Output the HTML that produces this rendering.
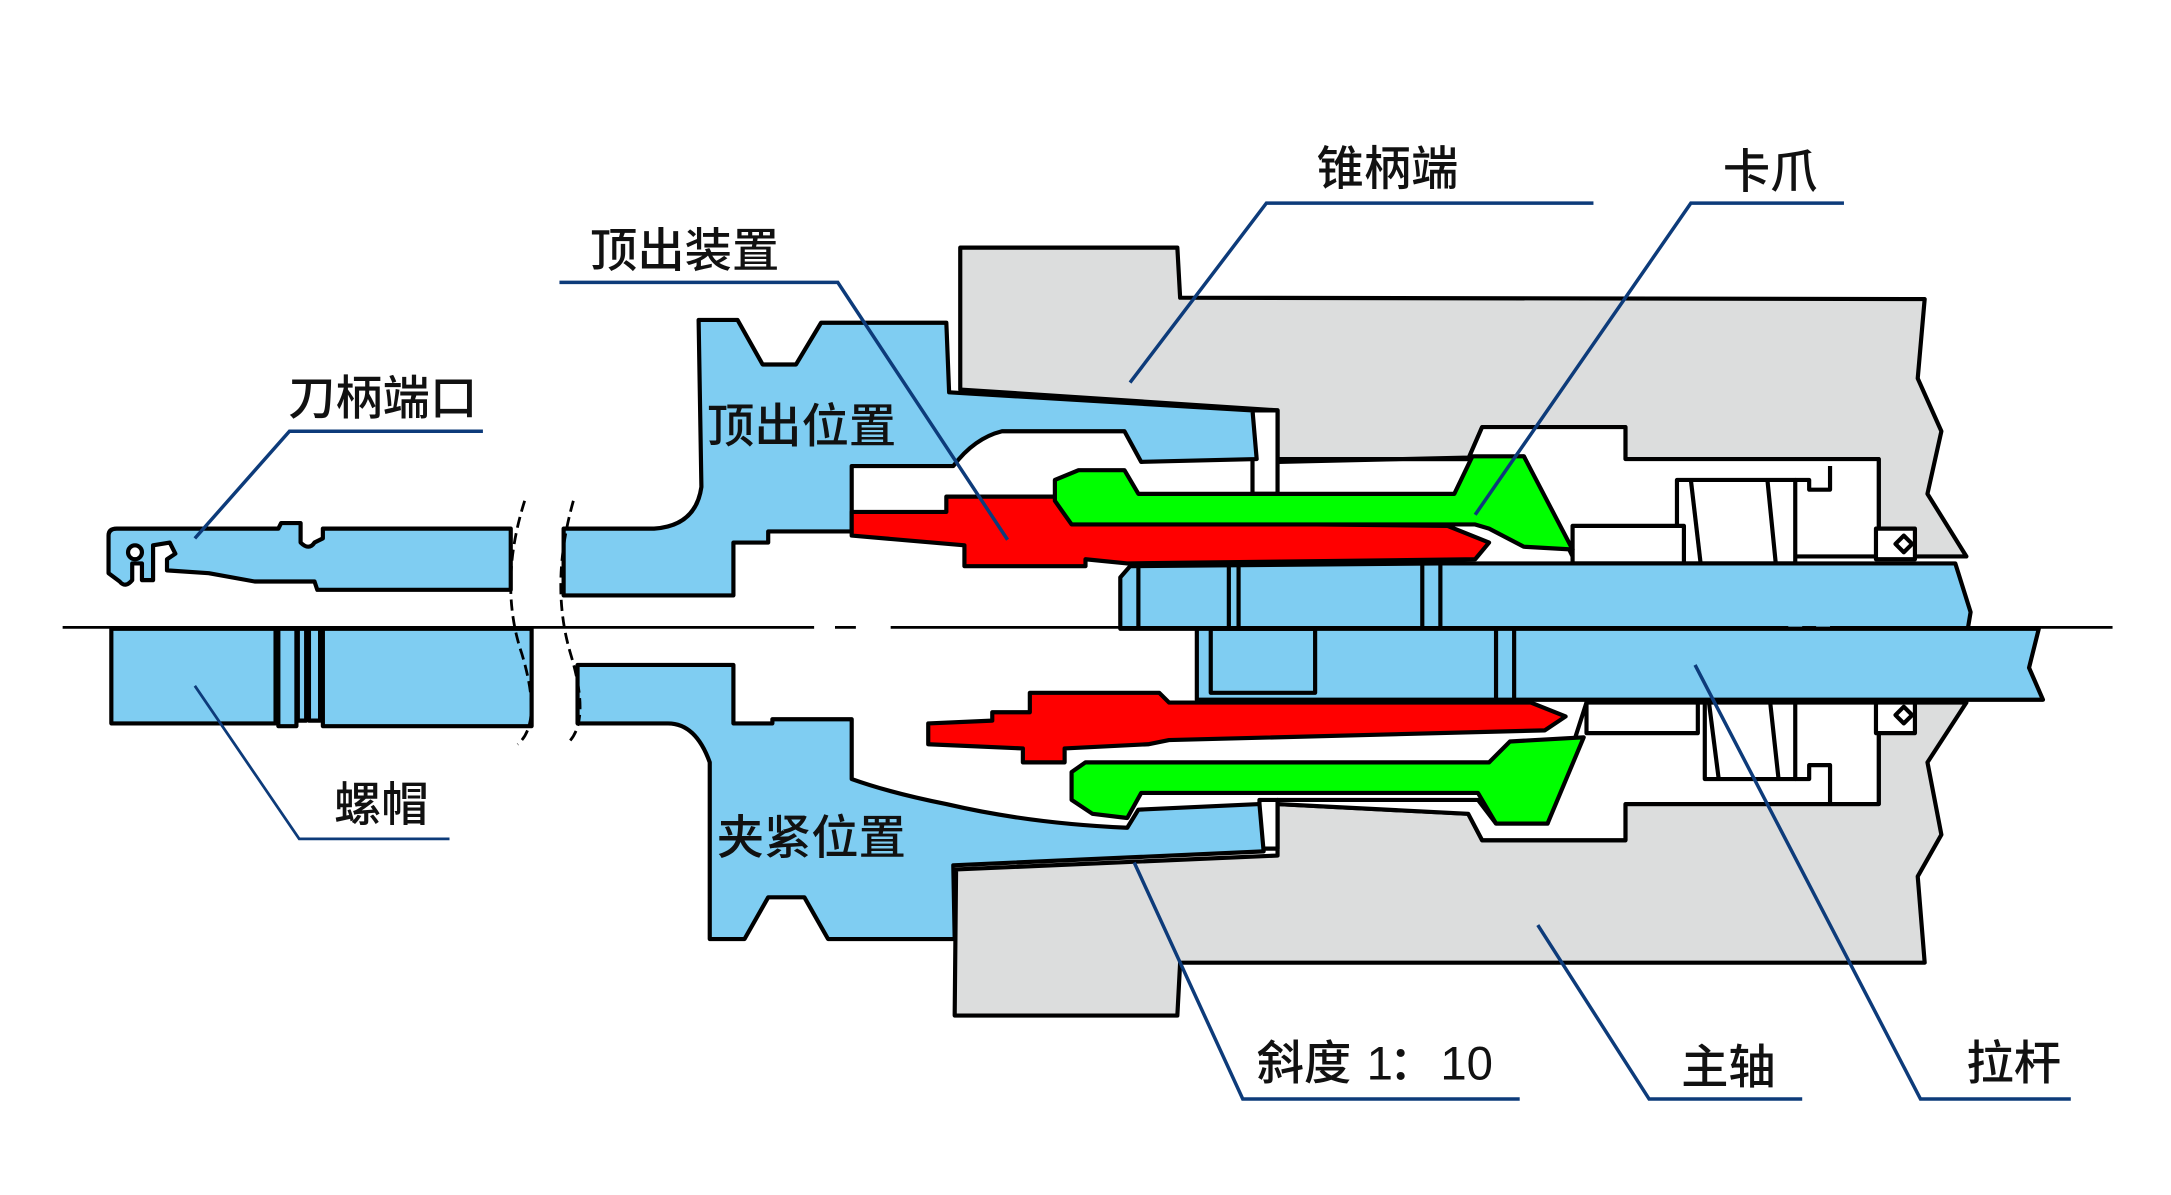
<!DOCTYPE html>
<html><head><meta charset="utf-8"><style>html,body{margin:0;padding:0;background:#fff}svg{display:block}
text{font-family:"Liberation Sans","Noto Sans CJK SC",sans-serif;font-size:34px;fill:#111;font-weight:500}</style></head>
<body>
<svg width="2171" height="1195" viewBox="0 0 1560 859" preserveAspectRatio="none" xmlns="http://www.w3.org/2000/svg">
<g stroke="#000" stroke-width="3" stroke-linejoin="round">
<polygon fill="#dcdddd" points="690,178 846,178 848,214 1383,215 1378,272 1395,310 1385,355 1413,400 1350,400 1350,330 1168,330 1168,307 1065,307 1055,330 918,330 918,295 690,280"/>
<polygon fill="#dcdddd" points="687,625 918,615 918,578 1055,585 1065,604 1168,604 1168,578 1350,578 1350,505 1413,505 1385,548 1395,600 1378,630 1383,692 848,692 846,730 686,730"/>
<polygon fill="#fff" points="918,330 1055,330 1065,307 1168,307 1168,330 1350,330 1350,400 1130,400 1095,328 918,332"/>
<polygon fill="#fff" points="918,578 1055,585 1065,604 1168,604 1168,578 1350,578 1350,505 1140,505 1112,592 1075,592 1062,575 918,575"/>
<rect x="1205" y="345" width="85" height="60" fill="#fff"/>
<rect x="1225" y="505" width="65" height="55" fill="#fff"/>
<rect x="1130" y="378" width="80" height="27" fill="#fff"/>
<rect x="1140" y="505" width="80" height="22" fill="#fff"/>
<rect x="1348" y="380" width="28" height="22" fill="#fff"/>
<rect x="1348" y="505" width="28" height="22" fill="#fff"/>
<polygon fill="none" points="1362,391 1368,385 1374,391 1368,397"/>
<polygon fill="none" points="1362,514 1368,508 1374,514 1368,520"/>
<line x1="1215" y1="345" x2="1222" y2="405"/><line x1="1270" y1="345" x2="1276" y2="405"/>
<line x1="1228" y1="505" x2="1235" y2="560"/><line x1="1272" y1="505" x2="1278" y2="560"/>
<polyline fill="none" points="1290,345 1300,345 1300,352 1315,352 1315,335"/>
<polyline fill="none" points="1290,560 1300,560 1300,550 1315,550 1315,578"/>
<rect x="900" y="295" width="18" height="60" fill="#fff"/>
<rect x="905" y="575" width="13" height="35" fill="#fff"/>
<path fill="#7fcdf2" d="M502,230 L530,230 L548,262 L572,262 L590,232 L680,232 L682,282 L900,295 L903,330 L820,332 L808,310 L720,310 Q700,315 685,335 L612,335 L612,382 L552,382 L552,390 L527,390 L527,428 L405,428 L405,380 L470,380 Q500,378 504,350 Z"/>
<path fill="#7fcdf2" d="M415,478 L527,478 L527,520 L555,520 L555,517 L612,517 L612,560 Q640,570 680,578 Q740,592 810,595 L818,582 L905,578 L908,612 L685,622 L686,675 L595,675 L578,645 L552,645 L535,675 L510,675 L510,548 Q500,520 480,520 L415,520 Z"/>
<path fill="#7fcdf2" d="M78,385 Q78,380 84,380 L200,380 L202,376 L216,376 L216,390 Q222,396 226,390 L232,387 L232,380 L367,380 L367,424 L228,424 L226,418 L183,418 L150,412 L120,410 L120,402 L126,398 L122,390 L110,392 L110,417 L102,417 L102,405 L95,405 L95,417 Q90,423 86,418 L78,412 Z"/>
<circle cx="97" cy="397" r="5" fill="#fff"/>
<rect x="80" y="452" width="118" height="68" fill="#7fcdf2"/>
<rect x="200" y="452" width="13" height="70" fill="#7fcdf2"/>
<rect x="214" y="452" width="6" height="66" fill="#7fcdf2"/>
<rect x="222" y="452" width="8" height="66" fill="#7fcdf2"/>
<rect x="232" y="452" width="150" height="70" fill="#7fcdf2"/>
<polygon fill="#f00" points="612,368 680,368 680,357 760,357 770,375 1040,378 1070,390 1060,402 810,405 780,402 780,407 693,407 693,392 612,385"/>
<polygon fill="#f00" points="667,520 713,518 713,512 740,512 740,498 833,498 840,505 1100,505 1125,515 1110,525 840,532 825,535 765,538 765,548 735,548 735,538 667,535"/>
<polygon fill="#0f0" points="758,345 775,338 808,338 818,355 1045,355 1058,328 1095,328 1130,395 1095,393 1070,380 1060,377 770,377 758,360"/>
<polygon fill="#0f0" points="770,555 780,548 1070,548 1085,533 1138,530 1112,592 1075,592 1062,570 820,570 810,588 785,585 770,575"/>
<polygon fill="#7fcdf2" points="812,407 1035,405 1405,405 1416,440 1414,452 805,452 805,415"/>
<polygon fill="#7fcdf2" points="860,452 1465,452 1458,480 1468,503 860,503 860,490"/>
<rect x="870" y="452" width="75" height="46" fill="none"/>
<line x1="883" y1="405" x2="883" y2="452"/><line x1="890" y1="405" x2="890" y2="452"/>
<line x1="1022" y1="405" x2="1022" y2="452"/><line x1="1035" y1="405" x2="1035" y2="452"/>
<line x1="1075" y1="452" x2="1075" y2="503"/><line x1="1088" y1="452" x2="1088" y2="503"/>
<line x1="818" y1="407" x2="818" y2="452"/>
</g>
<g fill="none" stroke="#000" stroke-width="2" stroke-dasharray="8,4">
<path d="M377,360 Q358,420 375,470 Q390,520 372,535"/>
<path d="M412,360 Q395,420 410,470 Q425,520 407,535"/>
</g>
<g stroke="#000" stroke-width="2">
<line x1="45" y1="451" x2="585" y2="451"/><line x1="600" y1="451" x2="615" y2="451"/>
<line x1="640" y1="451" x2="1285" y2="451"/><line x1="1295" y1="451" x2="1305" y2="451"/><line x1="1315" y1="451" x2="1518" y2="451"/>
</g>
<g fill="none" stroke="#0d3b7a" stroke-width="2.5">
<polyline points="1145,146 910,146 812,275"/>
<polyline points="1325,146 1215,146 1060,370"/>
<polyline points="402,203 602,203 724,388"/>
<polyline points="347,310 208,310 140,387"/>
<polyline points="323,603 215,603 140,493" stroke-width="2"/>
<polyline points="1092,790 893,790 815,620"/>
<polyline points="1295,790 1185,790 1105,665"/>
<polyline points="1488,790 1380,790 1218,478"/>
</g>
<text x="946" y="133">锥柄端</text>
<text x="1238" y="135">卡爪</text>
<text x="424" y="192">顶出装置</text>
<text x="207" y="298">刀柄端口</text>
<text x="508" y="318">顶出位置</text>
<text x="240" y="590">螺帽</text>
<text x="515" y="614">夹紧位置</text>
<text x="903" y="776">斜度</text><text x="982" y="776">1</text><text x="998" y="776">：</text><text x="1035" y="776">10</text>
<text x="1208" y="779">主轴</text>
<text x="1413" y="776">拉杆</text>
</svg>
</body></html>
